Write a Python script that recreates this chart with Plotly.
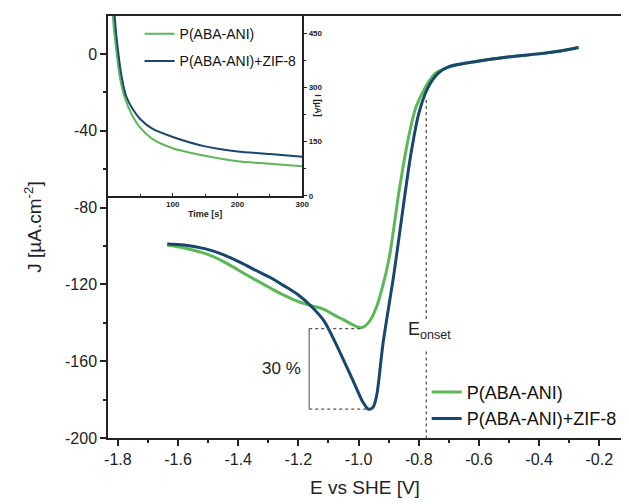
import plotly.graph_objects as go

# ---- main LSV data ----
E_green = [-1.636, -1.58, -1.508, -1.45, -1.40, -1.35, -1.292, -1.25, -1.20, -1.16, -1.115, -1.08, -1.049, -1.02,
           -0.99, -0.965, -0.941, -0.92, -0.898, -0.865, -0.836, -0.810, -0.777, -0.744, -0.70, -0.613, -0.505,
           -0.394, -0.33, -0.269]
J_green = [-99.5, -101.0, -104.0, -108.0, -112.5, -117.0, -122.0, -125.5, -129.0, -131.0, -133.0, -136.0, -138.5,
           -141.0, -142.5, -139.5, -132.0, -121.0, -106.0, -71.0, -45.0, -28.0, -17.0, -10.0, -6.8, -4.0, -1.6,
           0.2, 1.6, 3.4]

E_blue = [-1.636, -1.58, -1.508, -1.45, -1.40, -1.35, -1.292, -1.25, -1.20, -1.16, -1.115, -1.072, -1.016, -0.985,
          -0.967, -0.952, -0.940, -0.919, -0.882, -0.852, -0.826, -0.800, -0.771, -0.735, -0.70, -0.613, -0.505,
          -0.394, -0.33, -0.269]
J_blue = [-99.0, -99.5, -101.5, -104.5, -108.0, -112.0, -116.5, -120.5, -125.5, -131.0, -139.0, -152.0, -171.0,
          -181.5, -185.0, -184.0, -178.0, -151.0, -114.0, -80.0, -52.0, -31.0, -18.0, -10.0, -6.6, -4.0, -1.6,
          0.2, 1.6, 3.4]

# ---- inset chronoamperometry data ----
t_green = [5, 7, 9.5, 13, 18, 25, 38, 50, 69, 100, 150, 200, 250, 300]
I_green = [600, 510, 455, 400, 331, 276, 220, 188, 157, 132, 111, 96, 89, 82]
t_blue = [7, 8.5, 10, 12.5, 15.6, 20.7, 28, 38, 50, 69, 100, 150, 200, 250, 300]
I_blue = [600, 545, 505, 450, 400, 333, 276, 240, 212, 185, 163, 137, 123, 116, 108]

names = ["P(ABA-ANI)", "P(ABA-ANI)+ZIF-8"]
green = "#5cb857"
blue = "#17476d"

x_ticks = [-1.8, -1.6, -1.4, -1.2, -1.0, -0.8, -0.6, -0.4, -0.2]
x_ticktext = ["-1.8", "-1.6", "-1.4", "-1.2", "-1.0", "-0.8", "-0.6", "-0.4", "-0.2"]
y_ticks = [0, -40, -80, -120, -160, -200]
y_ticktext = ["0", "-40", "-80", "-120", "-160", "-200"]
t_ticks = [100, 200, 300]
i_ticks = [0, 150, 300, 450]

# annotation values
E_onset = -0.775
J_peak_green = -143
J_peak_blue = -185
E_bracket = -1.164

fig = go.Figure()

fig.add_trace(go.Scatter(x=E_green, y=J_green, mode="lines", name=names[0],
                         line=dict(color=green, width=3, shape="spline", smoothing=0.8),
                         legendgroup="g", legend="legend"))
fig.add_trace(go.Scatter(x=E_blue, y=J_blue, mode="lines", name=names[1],
                         line=dict(color=blue, width=3, shape="spline", smoothing=0.8),
                         legendgroup="b", legend="legend"))

fig.add_trace(go.Scatter(x=t_green, y=I_green, mode="lines", name=names[0], xaxis="x2", yaxis="y2",
                         line=dict(color=green, width=2, shape="spline", smoothing=0.8),
                         legendgroup="g2", legend="legend2"))
fig.add_trace(go.Scatter(x=t_blue, y=I_blue, mode="lines", name=names[1], xaxis="x2", yaxis="y2",
                         line=dict(color=blue, width=2, shape="spline", smoothing=0.8),
                         legendgroup="b2", legend="legend2"))

axis_col = "#222222"
font_main = "Liberation Sans, Arial, sans-serif"

shapes = [
    dict(type="line", xref="x", yref="y", x0=E_bracket, x1=E_bracket, y0=J_peak_green, y1=J_peak_blue,
         line=dict(color="#8a8a8a", width=1.6)),
    dict(type="line", xref="x", yref="y", x0=E_bracket, x1=-0.99, y0=J_peak_green, y1=J_peak_green,
         line=dict(color="#555555", width=1.3, dash="dot")),
    dict(type="line", xref="x", yref="y", x0=E_bracket, x1=-0.967, y0=J_peak_blue, y1=J_peak_blue,
         line=dict(color="#555555", width=1.3, dash="dot")),
    dict(type="line", xref="x", yref="y", x0=E_onset, x1=E_onset, y0=-24, y1=-138,
         line=dict(color="#555555", width=1.3, dash="dot")),
    dict(type="line", xref="x", yref="y", x0=E_onset, x1=E_onset, y0=-155, y1=-200,
         line=dict(color="#555555", width=1.3, dash="dot")),
]

annotations = [
    dict(x=-1.185, y=-164, xref="x", yref="y", text="30 %", showarrow=False, xanchor="right",
         yanchor="middle", font=dict(size=17, color="#222", family=font_main)),
    dict(x=-0.842, y=-144, xref="x", yref="y", text="E<sub>onset</sub>", showarrow=False, xanchor="left",
         yanchor="middle", font=dict(size=18, color="#222", family=font_main)),
    dict(x=150, y=-0.06, xref="x2", yref="y2 domain", text="<b>Time [s]</b>", showarrow=False,
         xanchor="center", yanchor="top", font=dict(size=9, color="#222", family=font_main)),
    dict(x=1.08, y=0.5, xref="x2 domain", yref="y2 domain", text="<b>I [µA]</b>", showarrow=False,
         textangle=90, xanchor="center", yanchor="middle", font=dict(size=9, color="#222", family=font_main)),
]

# the page body adds an 8px offset; size the figure so the plot area lands where the reference has it
fig.update_layout(
    width=621, height=496,
    margin=dict(l=100, r=0, t=8, b=66),
    paper_bgcolor="white", plot_bgcolor="white",
    font=dict(family=font_main, color="#222"),
    shapes=shapes,
    annotations=annotations,
    xaxis=dict(range=[-1.8328, -0.1245], tickvals=x_ticks, ticktext=x_ticktext,
               ticks="outside", ticklen=6, tickwidth=1.5, tickcolor=axis_col,
               minor=dict(dtick=0.1, tick0=-1.8, ticks="outside", ticklen=3, tickcolor=axis_col),
               showline=True, linecolor=axis_col, linewidth=1.5, mirror=True, showgrid=False, zeroline=False,
               tickfont=dict(size=16), title=dict(text="E vs SHE [V]", font=dict(size=19), standoff=14)),
    yaxis=dict(range=[-200, 19.8], tickvals=y_ticks, ticktext=y_ticktext,
               ticks="outside", ticklen=6, tickwidth=1.5, tickcolor=axis_col,
               minor=dict(dtick=20, tick0=0, ticks="outside", ticklen=3, tickcolor=axis_col),
               showline=True, linecolor=axis_col, linewidth=1.5, showgrid=False, zeroline=False,
               tickfont=dict(size=16), title=dict(text="J [µA.cm<sup>-2</sup>]", font=dict(size=19), standoff=18)),
    xaxis2=dict(domain=[0, 0.378], anchor="y2", range=[0, 300], tickvals=t_ticks,
                ticks="inside", ticklen=3, tickcolor=axis_col,
                minor=dict(dtick=50, tick0=0, ticks="inside", ticklen=2, tickcolor=axis_col),
                showline=True, linecolor=axis_col, linewidth=1.5, showgrid=False, zeroline=False,
                tickfont=dict(size=8, weight="bold")),
    yaxis2=dict(domain=[0.5735, 1.0], anchor="x2", side="right", range=[0, 497],
                tickvals=i_ticks, ticks="outside", ticklen=3, tickcolor=axis_col,
                minor=dict(dtick=75, tick0=0, ticks="outside", ticklen=2, tickcolor=axis_col),
                showline=True, linecolor=axis_col, linewidth=1.5, showgrid=False, zeroline=False,
                tickfont=dict(size=8, weight="bold")),
    legend=dict(x=0.62, y=0.152, xanchor="left", yanchor="top", bgcolor="rgba(0,0,0,0)",
                font=dict(size=18, color="#111"), tracegroupgap=0, itemwidth=30),
    legend2=dict(x=0.0614, y=0.995, xanchor="left", yanchor="top", bgcolor="rgba(0,0,0,0)",
                 font=dict(size=14, color="#111"), tracegroupgap=6, itemwidth=30),
)

fig.write_html("out.html")
